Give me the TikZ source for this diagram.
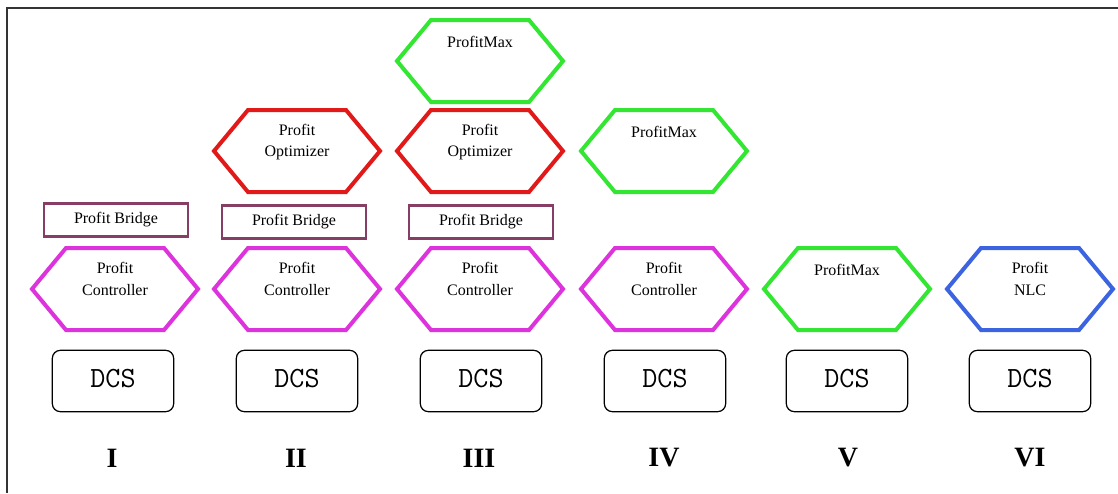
\documentclass[tikz,border=0pt]{standalone}
\usepackage{fontspec}
\setmainfont{Liberation Serif}
\definecolor{cmag}{RGB}{221,51,221}
\definecolor{cred}{RGB}{225,25,25}
\definecolor{cgreen}{RGB}{50,230,50}
\definecolor{cblue}{RGB}{60,100,225}
\definecolor{cbridge}{RGB}{135,62,100}
\tikzset{
  hexline/.style={line width=3pt, line join=miter},
  hextext/.style={font=\fontsize{12}{16}\selectfont, align=center, inner sep=0pt},
  bridgebox/.style={draw=cbridge, line width=2.2pt, minimum width=108pt, minimum height=25pt, inner sep=0pt, font=\fontsize{12}{14}\selectfont},
  dcsbox/.style={draw=black, line width=0.9pt, rounded corners=6pt, minimum width=91pt, minimum height=46pt, inner sep=0pt},
  dcstext/.style={font=\ttfamily\fontsize{22}{24}\selectfont, inner sep=0pt},
  numtext/.style={font=\bfseries\fontsize{21}{24}\selectfont, inner sep=0pt}
}
\newcommand{\hexa}[6]{% name, cx, cy, text y, colour, text
  \draw[hexline,draw=#5] (#2-83,#3) -- (#2-49,#3-41) -- (#2+49,#3-41) -- (#2+83,#3) -- (#2+49,#3+41) -- (#2-49,#3+41) -- cycle;
  \node[hextext] (#1) at (#2,#4) {#6};
}
\begin{document}
\begin{tikzpicture}[x=0.75pt,y=-0.75pt]
\useasboundingbox (0,0) rectangle (1118,493);
% frame
\draw[line width=1.5pt, draw=black!80] (7,493) -- (7,8) -- (1118,8);
% controllers / top hexagons
\hexa{c1}{115}{289}{279}{cmag}{Profit\\Controller}
\hexa{c2}{297}{289}{279}{cmag}{Profit\\Controller}
\hexa{c3}{480}{289}{279}{cmag}{Profit\\Controller}
\hexa{c4}{664}{289}{279}{cmag}{Profit\\Controller}
\hexa{m5}{847}{289}{270}{cgreen}{ProfitMax}
\hexa{n6}{1030}{289}{279}{cblue}{Profit\\NLC}
\hexa{o2}{297}{151}{142}{cred}{Profit\\Optimizer}
\hexa{o3}{480}{151}{142}{cred}{Profit\\Optimizer}
\hexa{m4}{664}{151}{132}{cgreen}{ProfitMax}
\hexa{m3}{480}{61}{42}{cgreen}{ProfitMax}
% bridges
\node[bridgebox] (b1) at (116,220) {Profit Bridge};
\node[bridgebox] (b2) at (294,222) {Profit Bridge};
\node[bridgebox] (b3) at (481,222) {Profit Bridge};
% DCS
\foreach \i/\x in {1/113,2/297,3/481,4/665,5/847,6/1030}{
  \node[dcsbox] (d\i) at (\x,381) {};
  \node[dcstext] (dt\i) at (\x,379) {DCS};
}
% numerals
\node[numtext] (r1) at (112,458) {I};
\node[numtext] (r2) at (296,458) {II};
\node[numtext] (r3) at (479,458) {III};
\node[numtext] (r4) at (664,458) {IV};
\node[numtext] (r5) at (848,458) {V};
\node[numtext] (r6) at (1030,458) {VI};
\end{tikzpicture}
\end{document}
